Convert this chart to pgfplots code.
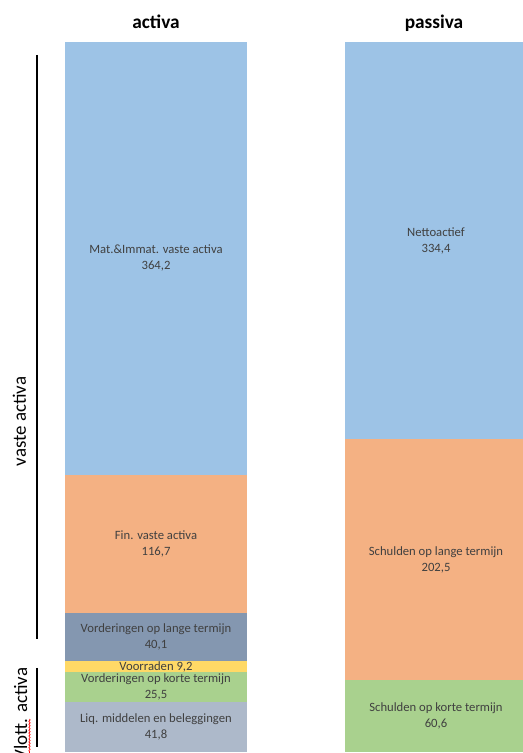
\documentclass[border=0pt]{standalone}
\usepackage{fontspec}
\setmainfont{Carlito}
\usepackage{pgfplots}
\pgfplotsset{compat=1.18}
\usetikzlibrary{decorations.pathmorphing}

% Office "lighter 40%" palette
\definecolor{cMat}{HTML}{9DC3E6}
\definecolor{cFin}{HTML}{F4B183}
\definecolor{cVordL}{HTML}{8497B0}
\definecolor{cVoorr}{HTML}{FFD966}
\definecolor{cVordK}{HTML}{A9D18E}
\definecolor{cLiq}{HTML}{ADB9CA}
\definecolor{labelgray}{HTML}{404040}

\newcommand{\yunit}{0.89121}% pt per unit of the value axis
\newcommand{\val}{\pgfmathprintnumber{\pgfplotspointmeta}}

% one stacked column per side of the balance sheet, sharing one scale;
% stacked nodes near coords already sit in the middle of their segment
\pgfplotsset{
  balance/.style={
    hide axis, clip=false,
    ybar stacked, bar width=0.65,
    x=210pt, y=\yunit pt,
    xmin=-0.6, xmax=1.4, ymin=0, ymax=600,
    at={(117pt,0.75pt)}, anchor=origin,
    every axis plot/.append style={draw=none},
    every node near coord/.append style={
      font=\fontsize{9.5}{12}\selectfont, text=labelgray,
      align=center, anchor=center, inner sep=0pt},
    /pgf/number format/.cd, use comma, fixed, fixed zerofill,
      precision=1, assume math mode=true,
  },
}

\begin{document}
\begin{tikzpicture}
\useasboundingbox (0,0) rectangle (392.25pt,564.75pt);
\clip (0,0) rectangle (392.25pt,564.75pt);

% activa
\begin{axis}[balance]
\addplot[fill=cLiq, nodes near coords={Liq. middelen en beleggingen\\\val}] coordinates {(0,41.8)};
\addplot[fill=cVordK, nodes near coords={Vorderingen op korte termijn\\\val}] coordinates {(0,25.5)};
\addplot[fill=cVoorr, nodes near coords={Voorraden \val}] coordinates {(0,9.2)};
\addplot[fill=cVordL, nodes near coords={Vorderingen op lange termijn\\\val}] coordinates {(0,40.1)};
\addplot[fill=cFin, nodes near coords={Fin. vaste activa\\\val}] coordinates {(0,116.7)};
\addplot[fill=cMat, nodes near coords={Mat.\&Immat. vaste activa\\\val}] coordinates {(0,364.2)};
\end{axis}

% passiva
\begin{axis}[balance]
\addplot[fill=cVordK, nodes near coords={Schulden op korte termijn\\\val}] coordinates {(1,60.6)};
\addplot[fill=cFin, nodes near coords={Schulden op lange termijn\\\val}] coordinates {(1,202.5)};
\addplot[fill=cMat, nodes near coords={Nettoactief\\\val}] coordinates {(1,334.4)};
\end{axis}

% headings and side brackets (pixel grid, origin top left)
\begin{scope}[x=0.75pt, y=-0.75pt, yshift=564.75pt]
  \node[font=\bfseries\fontsize{14.5}{17}\selectfont, anchor=base] at (156,29) {activa};
  \node[font=\bfseries\fontsize{14.5}{17}\selectfont, anchor=base] at (434,29) {passiva};
  \draw[line width=0.8pt] (37,55) -- (37,639);
  \draw[line width=0.8pt] (37,668) -- (37,747);
  \node[rotate=90, anchor=base east, font=\fontsize{14.2}{17}\selectfont] at (26,372) {vaste activa};
  \node[rotate=90, anchor=base east, font=\fontsize{14.2}{17}\selectfont] at (27,663) {Vlott. activa};
  \draw[red, line width=0.5pt, decorate,
        decoration={snake, amplitude=0.5pt, segment length=2.2pt}] (29.5,719) -- (29.5,753);
\end{scope}
\end{tikzpicture}
\end{document}
